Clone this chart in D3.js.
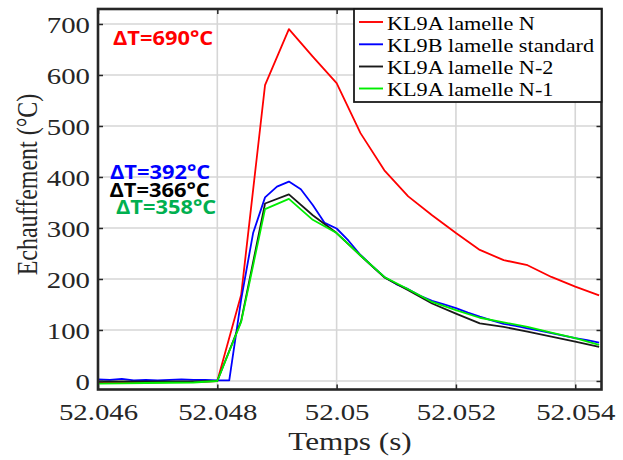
<!DOCTYPE html>
<html>
<head>
<meta charset="utf-8">
<script src="https://cdn.jsdelivr.net/npm/d3@7/dist/d3.min.js"></script>
<style>
  html, body { margin: 0; padding: 0; background: #fff; }
  svg { display: block; }
</style>
</head>
<body>
<script>
// ---- Data ----
const tCoarse = [52.046, 52.0464, 52.0468, 52.0472, 52.0476, 52.048, 52.0484, 52.0488, 52.0492, 52.0496,
  52.05, 52.0504, 52.0508, 52.0512, 52.0516, 52.052, 52.0524, 52.0528, 52.0532, 52.0536, 52.054, 52.0544];
const redN = [-3, -3, -3, -2, -2, 0, 169, 580, 690, 636, 584, 486, 413, 362, 325, 290, 257, 237, 227, 204, 185, 168];
const blackN2 = [-1, -1, -1, -1, -1, 0, 118, 348, 366, 325, 290, 246, 203, 178, 152, 132, 113, 106, 97, 87, 77, 67];
const greenN1 = [-5, -4.5, -4, -3.5, -3, 0, 116, 337, 357, 316, 290, 246, 204, 180, 155, 139, 124, 115, 106, 95, 84, 71];

const tFine = [52.046, 52.0462, 52.0464, 52.0466, 52.0468, 52.047, 52.0472, 52.0474, 52.0476, 52.0478,
  52.048, 52.0482, 52.0484, 52.0486, 52.0488, 52.049, 52.0492, 52.0494, 52.0496, 52.0498,
  52.05, 52.0502, 52.0504, 52.0506, 52.0508, 52.051, 52.0512, 52.0514, 52.0516, 52.0518,
  52.052, 52.0522, 52.0524, 52.0526, 52.0528, 52.053, 52.0532, 52.0534, 52.0536, 52.0538,
  52.054, 52.0542, 52.0544];
const blueStd = [3, 2, 4, 1, 2, 1, 2, 3, 2, 2,
  1, 1, 160, 290, 360, 381, 391, 376, 345, 310,
  299, 275, 247, 225, 204, 190, 180, 167, 157, 150,
  143, 134, 126, 119, 112, 108, 103, 99, 94, 89,
  84, 80, 75];

const seriesNames = ["KL9A lamelle N", "KL9B lamelle standard", "KL9A lamelle N-2", "KL9A lamelle N-1"];
const seriesColors = ["#ff0000", "#0000ff", "#1a1a1a", "#00ee00"];
const xTicks = [52.046, 52.048, 52.05, 52.052, 52.054];
const xTickLabels = ["52.046", "52.048", "52.05", "52.052", "52.054"];
const yTicks = [0, 100, 200, 300, 400, 500, 600, 700];
const deltaLabels = ["ΔT=690°C", "ΔT=392°C", "ΔT=366°C", "ΔT=358°C"];
const deltaColors = ["#ff0000", "#0000ff", "#000000", "#00b050"];
const xTitle = "Temps (s)";
const yTitle = "Echauffement (°C)";

// ---- Layout ----
const W = 623, H = 460;
const L = 98, R = 601.5, T = 9, B = 389.5;
const SX = 1.2; // horizontal stretch of text in the reference

const x = d3.scaleLinear().domain([52.046, 52.05444]).range([L, R]);
const y = d3.scaleLinear().domain([-16.7, 729.4]).range([B, T]);

const svg = d3.select("body").append("svg").attr("width", W).attr("height", H);

svg.append("defs").append("clipPath").attr("id", "clip")
  .append("rect").attr("x", L).attr("y", T).attr("width", R - L).attr("height", B - T);

// grid
const grid = svg.append("g");
grid.selectAll("line.gx").data(xTicks).enter().append("line")
  .attr("x1", d => x(d)).attr("x2", d => x(d)).attr("y1", T).attr("y2", B)
  .attr("stroke", "#d6d6d6").attr("stroke-width", 1.6);
grid.selectAll("line.gy").data(yTicks).enter().append("line")
  .attr("y1", d => y(d)).attr("y2", d => y(d)).attr("x1", L).attr("x2", R)
  .attr("stroke", "#d6d6d6").attr("stroke-width", 1.6);

// lines
const line = d3.line().x(d => x(d[0])).y(d => y(d[1]));
const seriesData = [
  d3.zip(tCoarse, redN),
  d3.zip(tFine, blueStd),
  d3.zip(tCoarse, blackN2),
  d3.zip(tCoarse, greenN1)
];
const lines = svg.append("g").attr("clip-path", "url(#clip)");
seriesData.forEach((s, i) => {
  lines.append("path").datum(s).attr("d", line)
    .attr("fill", "none").attr("stroke", seriesColors[i]).attr("stroke-width", 1.8)
    .attr("stroke-linejoin", "round");
});

// axes
const axisColor = "#262626";
const gB = svg.append("g").attr("transform", `translate(0,${B})`)
  .call(d3.axisBottom(x).tickValues(xTicks).tickSizeInner(-5).tickSizeOuter(0).tickPadding(13)
    .tickFormat((d, i) => xTickLabels[i]));
const gL = svg.append("g").attr("transform", `translate(${L},0)`)
  .call(d3.axisLeft(y).tickValues(yTicks).tickSizeInner(-5).tickSizeOuter(0).tickPadding(8));
const gT = svg.append("g").attr("transform", `translate(0,${T})`)
  .call(d3.axisTop(x).tickValues(xTicks).tickSizeInner(-5).tickSizeOuter(0).tickFormat(""));
const gR = svg.append("g").attr("transform", `translate(${R},0)`)
  .call(d3.axisRight(y).tickValues(yTicks).tickSizeInner(-5).tickSizeOuter(0).tickFormat(""));

[gB, gL, gT, gR].forEach(g => {
  g.select(".domain").remove();
  g.selectAll(".tick line").attr("stroke", axisColor).attr("stroke-width", 1.5);
});

gB.selectAll(".tick text")
  .attr("font-family", "'Liberation Serif', 'Times New Roman', serif").attr("font-size", 24)
  .attr("fill", "#262626").attr("y", 30.5).attr("dy", 0)
  .attr("transform", `scale(${SX},1)`);
gL.selectAll(".tick text")
  .attr("font-family", "'Liberation Serif', 'Times New Roman', serif").attr("font-size", 24)
  .attr("fill", "#262626").attr("x", -8 / SX).attr("dy", "0.34em")
  .attr("transform", `scale(${SX},1)`);

// axes box
svg.append("rect").attr("x", L).attr("y", T).attr("width", R - L).attr("height", B - T)
  .attr("fill", "none").attr("stroke", axisColor).attr("stroke-width", 2.6);

// axis titles
svg.append("text").attr("transform", `translate(350,450) scale(${SX},1)`)
  .attr("text-anchor", "middle")
  .attr("font-family", "'Liberation Serif', 'Times New Roman', serif").attr("font-size", 26)
  .attr("fill", "#262626").text(xTitle);
svg.append("text").attr("transform", `translate(37,184.5) scale(${SX},1) rotate(-90)`)
  .attr("text-anchor", "middle")
  .attr("font-family", "'Liberation Serif', 'Times New Roman', serif").attr("font-size", 24)
  .attr("fill", "#262626").text(yTitle);

// legend
const lg = svg.append("g");
lg.append("rect").attr("x", 354).attr("y", T).attr("width", R - 354).attr("height", 93)
  .attr("fill", "#fff").attr("stroke", "#1a1a1a").attr("stroke-width", 1.8);
const legendBase = [29.5, 51.8, 74, 96];
seriesNames.forEach((n, i) => {
  lg.append("line").attr("x1", 359).attr("x2", 383)
    .attr("y1", legendBase[i] - 7.5).attr("y2", legendBase[i] - 7.5)
    .attr("stroke", seriesColors[i]).attr("stroke-width", 1.9);
  lg.append("text").attr("transform", `translate(387,${legendBase[i]}) scale(${SX},1)`)
    .attr("font-family", "'Liberation Serif', 'Times New Roman', serif").attr("font-size", 18.5)
    .attr("fill", "#000").text(n);
});

// delta T annotations
const deltaPos = [[113, 45], [110, 179], [109.5, 196.8], [116, 214]];
deltaLabels.forEach((s, i) => {
  svg.append("text").attr("transform", `translate(${deltaPos[i][0]},${deltaPos[i][1]}) scale(1.12,1)`)
    .attr("font-family", "'Open Sans', 'DejaVu Sans', sans-serif").attr("font-weight", "bold")
    .attr("font-size", 19.5).attr("fill", deltaColors[i]).text(s);
});
</script>
</body>
</html>
